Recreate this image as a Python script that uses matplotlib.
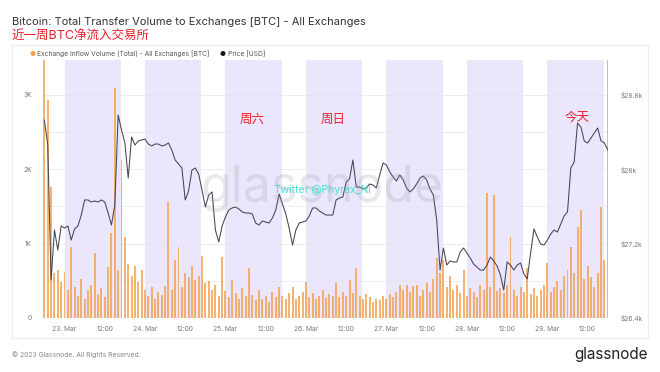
import pandas as pd
import matplotlib
matplotlib.use("Agg")
import matplotlib.pyplot as plt
from matplotlib.patches import Rectangle

plt.rcParams['font.family'] = ['Inter', 'Noto Sans CJK SC', 'DejaVu Sans']

# hourly samples, 22 Mar 18:00 -> 29 Mar 18:00 (2023)
times = pd.date_range('2023-03-22 18:00', periods=169, freq='h')

# BTC price [USD]
price = [
    28530, 28261, 26809, 27347, 27132, 27390, 27368, 27390, 27239, 27358,
    27390, 27508, 27670, 27670, 27648, 27659, 27648, 27670, 27648, 27530,
    27401, 27616, 28584, 28423, 28283, 27906, 28348, 28261, 28305, 28315,
    28326, 28272, 28251, 28272, 28272, 28251, 28261, 28283, 28208, 28100,
    28057, 28014, 27670, 27767, 27992, 28014, 27949, 27777, 27594, 27723,
    27756, 27347, 27218, 27390, 27487, 27562, 27584, 27594, 27573, 27541,
    27530, 27530, 27519, 27422, 27401, 27444, 27433, 27422, 27476, 27562,
    27734, 27627, 27519, 27368, 27185, 27347, 27422, 27433, 27444, 27498,
    27584, 27584, 27551, 27530, 27508, 27508, 27508, 27670, 27691, 27702,
    27863, 27896, 28100, 27810, 27810, 27788, 27799, 27842, 27831, 27799,
    27939, 28068, 28046, 27971, 27917, 27874, 27939, 27885, 27799, 27756,
    27788, 27842, 27906, 27928, 27885, 27788, 27723, 27454, 26916, 27153,
    26970, 27013, 27003, 27003, 27110, 27153, 27099, 27046, 26981, 26949,
    26916, 26916, 26970, 27056, 27013, 26960, 26863, 26701, 27003, 26970,
    26916, 26970, 26992, 26873, 26820, 27099, 27358, 27272, 27196, 27185,
    27239, 27304, 27347, 27325, 27411, 27498, 27541, 28014, 28079, 28498,
    28455, 28305, 28283, 28337, 28391, 28444, 28305, 28283, 28208,
]

# exchange inflow volume [BTC]
inflow = [
    3600, 2930, 1760, 600, 650, 480, 620, 380, 950, 420,
    300, 520, 260, 380, 450, 870, 320, 410, 280, 690,
    1140, 3090, 640, 2120, 1090, 720, 560, 700, 480, 650,
    380, 300, 420, 260, 350, 310, 430, 1560, 380, 780,
    950, 420, 600, 550, 700, 510, 560, 830, 470, 500,
    380, 440, 300, 820, 360, 280, 510, 330, 250, 400,
    290, 670, 310, 240, 380, 260, 300, 220, 350, 280,
    420, 300, 250, 330, 420, 260, 300, 350, 480, 280,
    330, 250, 300, 380, 270, 320, 300, 470, 280, 350,
    300, 510, 330, 670, 290, 250, 320, 280, 220, 260,
    240, 300, 260, 320, 280, 350, 440, 380, 440, 350,
    430, 440, 300, 380, 470, 350, 520, 810, 600, 780,
    420, 560, 380, 450, 330, 645, 300, 400, 350, 280,
    450, 380, 1680, 420, 1650, 360, 400, 330, 450, 1090,
    380, 300, 420, 350, 670, 320, 400, 300, 380, 450,
    740, 350, 420, 500, 380, 560, 640, 955, 600, 1220,
    1450, 520, 700, 550, 420, 600, 1490, 780, 300,
]

band_days = pd.date_range('2023-03-23', '2023-03-29', freq='D')
tick_pos = pd.date_range('2023-03-23', periods=14, freq='12h')
tick_labels = ['23. Mar', '12:00', '24. Mar', '12:00', '25. Mar', '12:00', '26. Mar', '12:00',
               '27. Mar', '12:00', '28. Mar', '12:00', '29. Mar', '12:00']
vol_ticks = [0, 1000, 2000, 3000]
vol_labels = ['0', '1K', '2K', '3K']
price_ticks = [26400, 27200, 28000, 28800]
price_labels = ['$26.4k', '$27.2k', '$28k', '$28.8k']

W, H = 660, 372
fig = plt.figure(figsize=(W / 100, H / 100), dpi=100)
fig.patch.set_facecolor('white')


def fx(px):
    return px / W


def fy(py):
    return 1 - py / H


# panel frame
fig.patches.append(Rectangle((fx(12), fy(338)), fx(636), (338 - 45) / H, transform=fig.transFigure,
                             facecolor='none', edgecolor='#ececec', lw=0.8))

fig.text(fx(12), fy(22), 'Bitcoin: Total Transfer Volume to Exchanges [BTC] - All Exchanges',
         fontsize=8, color='#333333', va='center')
fig.text(fx(12), fy(37), '近一周BTC净流入交易所', fontsize=9, color='#e8202a', va='center')

# legend
fig.text(fx(33), fy(54), '●', fontsize=4.8, color='#f5a142', va='center', ha='center')
fig.text(fx(37), fy(54), 'Exchange Inflow Volume (Total) - All Exchanges [BTC]',
         fontsize=4.8, color='#555555', va='center')
fig.text(fx(223), fy(54), '●', fontsize=4.8, color='#111111', va='center', ha='center')
fig.text(fx(228), fy(54), 'Price [USD]', fontsize=4.8, color='#555555', va='center')

ax = fig.add_axes([fx(43), fy(318), (608 - 43) / W, (318 - 60) / H])
ax2 = ax.twinx()

x0 = pd.Timestamp('2023-03-22 17:35')
x1 = pd.Timestamp('2023-03-29 18:05')

for d in band_days:
    ax.axvspan(d, d + pd.Timedelta(hours=16.75), color='#ebe6fc', lw=0, zorder=0)

for v in [500, 1000, 1500, 2000, 2500, 3000]:
    ax.axhline(v, color='#e4e4ec', lw=0.5, zorder=0.5)

ax.bar(times, inflow, width=pd.Timedelta(minutes=35), color='#f3a04e', alpha=0.8,
       lw=0, zorder=2)
ax.axvline(x1 - pd.Timedelta(minutes=5), color='#bdbdbd', lw=1.4, zorder=3)

ax2.plot(times, price, color='#444452', lw=0.75, zorder=4)

ax.set_xlim(x0, x1)
ax.set_ylim(0, 3470)
ax2.set_ylim(26400, 29176)

ax.set_xticks(tick_pos)
ax.set_xticklabels(tick_labels)
ax.set_yticks(vol_ticks)
ax.set_yticklabels(vol_labels)
ax2.set_yticks(price_ticks)
ax2.set_yticklabels(price_labels)

for a in (ax, ax2):
    for s in a.spines.values():
        s.set_visible(False)
    a.tick_params(length=0, labelsize=4.8, colors='#777777')
ax.tick_params(axis='y', pad=8)
ax.tick_params(axis='x', pad=6)
ax2.tick_params(axis='y', pad=9)
ax.set_zorder(1)
ax2.set_zorder(2)
ax.patch.set_visible(False)

# watermark + annotations
fig.text(fx(322), fy(188), 'glassnode', fontsize=36, color='#9a9aa6', alpha=0.22,
         ha='center', va='center')
fig.text(fx(322), fy(190), 'Twitter @Phyrex_Ni', fontsize=7.5, color='#3fe0d0',
         ha='center', va='center')
for label, px, py in [('周六', 252, 120), ('周日', 333, 120), ('今天', 577, 118)]:
    fig.text(fx(px), fy(py), label, fontsize=9, color='#e8202a', ha='center', va='center')

fig.text(fx(12), fy(355), '© 2023 Glassnode. All Rights Reserved.', fontsize=4.9,
         color='#888888', va='center')
fig.text(fx(648), fy(355), 'glassnode', fontsize=11, color='#222222', ha='right', va='center')

fig.savefig('out.png', dpi=100)
